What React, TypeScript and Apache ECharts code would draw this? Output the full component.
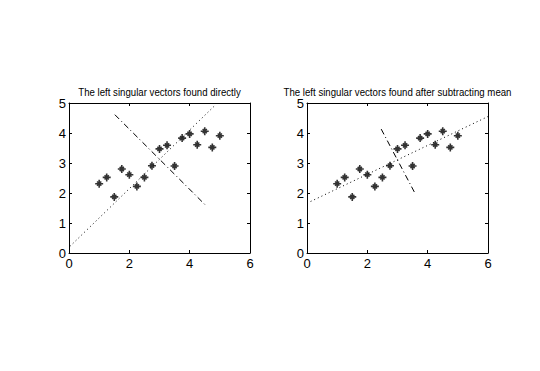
import React, { useEffect, useRef } from "react";
import * as echarts from "echarts";

const xValues = [1, 1.25, 1.5, 1.75, 2, 2.25, 2.5, 2.75, 3, 3.25, 3.5, 3.75, 4, 4.25, 4.5, 4.75, 5];
const yValues = [2.31, 2.52, 1.87, 2.8, 2.61, 2.22, 2.52, 2.91, 3.47, 3.59, 2.9, 3.83, 3.97, 3.61, 4.06, 3.52, 3.91];

const leftDotted = [[0.03, 0.22], [4.84, 4.92]];
const leftDashDot = [[1.52, 4.61], [4.56, 1.56]];
const rightDotted = [[0, 1.66], [6, 4.55]];
const rightDashDot = [[2.46, 4.13], [3.57, 2.01]];

const titles = [
  "The left singular vectors found directly",
  "The left singular vectors found after subtracting mean",
];
const xTicks = [0, 2, 4, 6];
const yTicks = [0, 1, 2, 3, 4, 5];

const STAR =
  "path://M-1,-5L1,-5L1,5L-1,5Z M-5,-1L5,-1L5,1L-5,1Z M-3.3,-2L-2,-3.3L3.3,2L2,3.3Z M2,-3.3L3.3,-2L-2,3.3L-3.3,2Z";

export default function App() {
  const ref = useRef<HTMLDivElement>(null);
  useEffect(() => {
    document.body.style.margin = "0";
    if (!ref.current) return;
    const chart = echarts.init(ref.current, null, { renderer: "svg" });
    const points = xValues.map((x, i) => [x, yValues[i]]);
    const grids = [
      { left: 69, top: 103, width: 181, height: 150 },
      { left: 307, top: 103, width: 181, height: 150 },
    ];
    const tickFont = { fontFamily: "Liberation Sans, Arial, sans-serif", fontSize: 13, color: "#000" };
    const xAxes: any[] = [];
    const yAxes: any[] = [];
    [0, 1].forEach((g) => {
      ["bottom", "top"].forEach((pos) => {
        xAxes.push({
          type: "value",
          gridIndex: g,
          position: pos,
          min: xTicks[0],
          max: xTicks[xTicks.length - 1],
          interval: 2,
          axisLine: { show: true, onZero: false, lineStyle: { color: "#000", width: 1 } },
          axisTick: { show: true, inside: true, length: 3, lineStyle: { color: "#000" } },
          axisLabel: { show: pos === "bottom", margin: 4, ...tickFont },
          splitLine: { show: false },
        });
      });
      ["left", "right"].forEach((pos) => {
        yAxes.push({
          type: "value",
          gridIndex: g,
          position: pos,
          min: yTicks[0],
          max: yTicks[yTicks.length - 1],
          interval: 1,
          axisLine: { show: true, onZero: false, lineStyle: { color: "#000", width: 1 } },
          axisTick: { show: true, inside: true, length: 3, lineStyle: { color: "#000" } },
          axisLabel: { show: pos === "left", margin: 3, ...tickFont },
          splitLine: { show: false },
        });
      });
    });
    const lineSeries = (data: number[][], g: number, dash: number[]) => ({
      type: "line",
      xAxisIndex: g * 2,
      yAxisIndex: g * 2,
      data,
      symbol: "none",
      lineStyle: { color: "#000", width: 1, type: dash },
      silent: true,
    });
    const scatterSeries = (g: number) => ({
      type: "scatter",
      xAxisIndex: g * 2,
      yAxisIndex: g * 2,
      data: points,
      symbol: STAR,
      symbolSize: 8,
      itemStyle: { color: "#000" },
    });
    chart.setOption({
      animation: false,
      backgroundColor: "#fff",
      grid: grids,
      xAxis: xAxes,
      yAxis: yAxes,
      graphic: titles.map((t, i) => ({
        type: "text",
        x: grids[i].left + grids[i].width / 2,
        y: 92,
        scaleX: 0.84,
        style: {
          text: t,
          textAlign: "center",
          textVerticalAlign: "middle",
          fontFamily: "Liberation Sans, Arial, sans-serif",
          fontSize: 11.5,
          fill: "#000",
        },
      })),
      series: [
        lineSeries(leftDotted, 0, [1, 3]),
        lineSeries(leftDashDot, 0, [6, 3, 1, 3]),
        scatterSeries(0),
        lineSeries(rightDotted, 1, [1, 3]),
        lineSeries(rightDashDot, 1, [6, 3, 1, 3]),
        scatterSeries(1),
      ],
    });
    return () => chart.dispose();
  }, []);
  return <div ref={ref} style={{ width: 540, height: 371, background: "#fff" }} />;
}
